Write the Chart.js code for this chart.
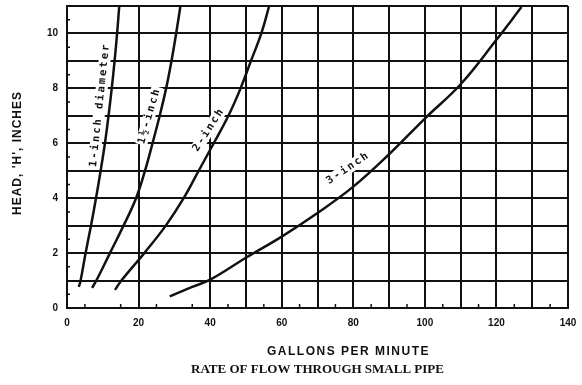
<!DOCTYPE html>
<html><head><meta charset="utf-8">
<script src="https://cdn.jsdelivr.net/npm/chart.js@4"></script>
<style>html,body{margin:0;padding:0;background:#fff}</style>
</head><body>
<canvas id="c" width="582" height="385"></canvas>
<script>
// ---- data (flow in gal/min, head in inches) ----
const seriesNames = ['1-inch diameter', '1½-inch', '2-inch', '3-inch'];
const pipe1Flow = [3.3, 3.8, 5.2, 6.7, 8.1, 9.4, 10.6, 11.6, 12.5, 13.3, 14.0, 14.6];
const pipe1Head = [0.77, 1, 2, 3, 4, 5, 6, 7, 8, 9, 10, 11];
const pipe15Flow = [7.0, 8.2, 12.0, 15.8, 19.3, 21.8, 23.9, 25.9, 27.7, 29.2, 30.5, 31.7];
const pipe15Head = [0.73, 1, 2, 3, 4, 5, 6, 7, 8, 9, 10, 11];
const pipe2Flow = [13.4, 15.2, 21.6, 27.6, 32.6, 36.8, 41.0, 45.1, 48.5, 51.4, 54.3, 56.5];
const pipe2Head = [0.66, 1, 2, 3, 4, 5, 6, 7, 8, 9, 10, 11];
const pipe3Flow = [28.7, 35, 40, 50, 60, 70, 80, 90, 100, 110, 120, 127];
const pipe3Head = [0.42, 0.77, 1.03, 1.83, 2.6, 3.46, 4.42, 5.6, 6.9, 8.15, 9.77, 10.96];
const xTickLabels = [0, 20, 40, 60, 80, 100, 120, 140];
const yTickLabels = [0, 2, 4, 6, 8, 10];
const xTitle = 'GALLONS PER MINUTE';
const yTitle = "HEAD, 'H', INCHES";
const chartTitle = 'RATE OF FLOW THROUGH SMALL PIPE';

const pairs = (xs, ys) => xs.map((x, i) => ({x, y: ys[i]}));
const seriesData = [pairs(pipe1Flow, pipe1Head), pairs(pipe15Flow, pipe15Head),
                    pairs(pipe2Flow, pipe2Head), pairs(pipe3Flow, pipe3Head)];

const INK = '#111';

const decorPlugin = {
  id: 'decor',
  afterDraw(chart) {
    const {ctx, scales: {x, y}, chartArea} = chart;
    ctx.save();
    ctx.strokeStyle = INK;
    ctx.lineWidth = 1.5;
    // minor ticks along the axes, drawn inward
    ctx.beginPath();
    for (let v = x.min + 5; v < x.max; v += 10) {
      const px = x.getPixelForValue(v);
      ctx.moveTo(px, chartArea.bottom); ctx.lineTo(px, chartArea.bottom - 4);
    }
    for (let v = y.min + 0.5; v < y.max; v += 1) {
      const py = y.getPixelForValue(v);
      ctx.moveTo(chartArea.left, py); ctx.lineTo(chartArea.left + 3, py);
    }
    ctx.stroke();

    // curve labels: data-space anchor + rotation
    const place = [
      {ax: 9.2, ay: 7.4, rot: -84},
      {ax: 23.0, ay: 7.0, rot: -74},
      {ax: 39.6, ay: 6.5, rot: -57},
      {ax: 78.6, ay: 5.1, rot: -34}
    ];
    ctx.fillStyle = INK;
    ctx.font = 'bold 10.5px "DejaVu Sans Mono"';
    ctx.textAlign = 'center';
    ctx.textBaseline = 'middle';
    if ('letterSpacing' in ctx) ctx.letterSpacing = '2px';
    place.forEach((p, i) => {
      const px = x.getPixelForValue(p.ax), py = y.getPixelForValue(p.ay);
      ctx.save();
      ctx.translate(px, py);
      ctx.rotate(p.rot * Math.PI / 180);
      ctx.fillStyle = '#fff';
      const w = ctx.measureText(seriesNames[i]).width;
      ctx.fillRect(-w / 2 - 1, -6, w + 2, 12);
      ctx.fillStyle = INK;
      ctx.fillText(seriesNames[i], 0, 0);
      ctx.restore();
    });
    // axis titles and figure caption
    if ('letterSpacing' in ctx) ctx.letterSpacing = '1.5px';
    ctx.font = 'bold 12px "Liberation Sans"';
    ctx.fillText(xTitle, (chartArea.left + chartArea.right) / 2 + 31, 352);
    if ('letterSpacing' in ctx) ctx.letterSpacing = '1px';
    ctx.save();
    ctx.translate(18, 153);
    ctx.rotate(-Math.PI / 2);
    ctx.font = 'bold 12px "Liberation Sans"';
    ctx.fillText(yTitle, 0, 0);
    ctx.restore();
    if ('letterSpacing' in ctx) ctx.letterSpacing = '0px';
    ctx.font = 'bold 13px "Liberation Serif"';
    ctx.fillText(chartTitle, (chartArea.left + chartArea.right) / 2, 370);
    ctx.restore();
  }
};

new Chart(document.getElementById('c'), {
  type: 'scatter',
  data: {
    datasets: seriesData.map((d, i) => ({
      label: seriesNames[i],
      data: d,
      showLine: true,
      borderColor: INK,
      backgroundColor: INK,
      borderWidth: 2.5,
      pointRadius: 0,
      tension: 0.4
    }))
  },
  options: {
    responsive: false,
    animation: false,
    layout: {padding: {left: 0, right: 14, top: 6, bottom: 0}},
    plugins: {legend: {display: false}, tooltip: {enabled: false}},
    scales: {
      x: {
        type: 'linear', min: 0, max: 140,
        afterFit(s) { s.height = 77; s.paddingLeft = 0; s.paddingRight = 0; },
        border: {color: INK, width: 2},
        grid: {
          color: ctx => (ctx.tick && (ctx.tick.value === 10 || ctx.tick.value === 30)) ? 'rgba(0,0,0,0)' : INK,
          lineWidth: 2, drawTicks: false
        },
        ticks: {
          stepSize: 10, padding: 9, color: INK, maxRotation: 0, autoSkip: false,
          font: {family: 'Liberation Sans', size: 10, weight: 'bold'},
          callback: v => xTickLabels.includes(v) ? String(v) : ''
        }
      },
      y: {
        type: 'linear', min: 0, max: 11,
        afterFit(s) { s.width = 67; s.paddingTop = 0; s.paddingBottom = 0; },
        border: {color: INK, width: 2},
        grid: {color: INK, lineWidth: 2, drawTicks: false},
        ticks: {
          stepSize: 1, padding: 9, color: INK, autoSkip: false,
          font: {family: 'Liberation Sans', size: 10, weight: 'bold'},
          callback: v => yTickLabels.includes(v) ? String(v) : ''
        }
      }
    }
  },
  plugins: [decorPlugin]
});
</script>
</body></html>
